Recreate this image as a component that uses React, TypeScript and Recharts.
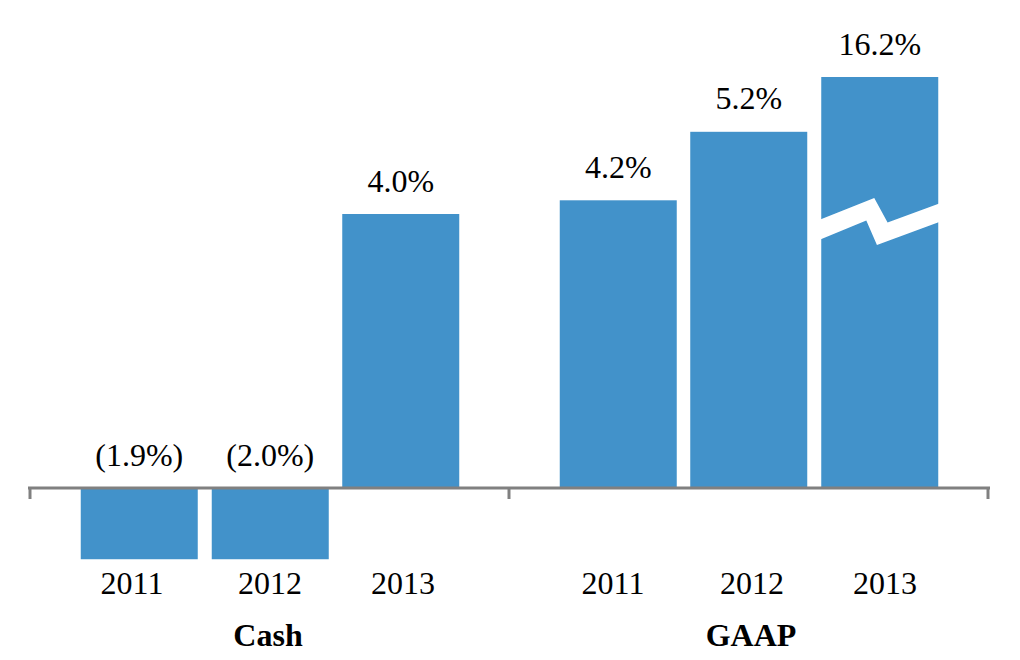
import React from "react";
import { BarChart, Bar, XAxis, YAxis, ReferenceLine, LabelList } from "recharts";

// values as reported, and bar heights as actually drawn in the reference
// (negative bars are compressed, the 16.2% bar is cut with a break mark)
const years = ["2011", "2012", "2013", "2011", "2012", "2013"];
const groups = ["Cash", "GAAP"];
const reported = [-1.9, -2.0, 4.0, 4.2, 5.2, 16.2];
const drawn = [-1.04, -1.04, 4.0, 4.2, 5.2, 6.0];
const broken = [false, false, false, false, false, true];

// x positions on a 0..958 axis
const barPos = [109, 240, 370.5, 588, 718.5, 849.5];
const yearPos = [102, 240, 373, 583, 722, 855];
const groupPos = [238, 721];
const groupEdges = [0, 479, 958];

const BLUE = "#4292CA";
const GREY = "#808080";
const FONT = "'Liberation Serif', 'Times New Roman', serif";

const fmt = (v: number) => (v < 0 ? `(${Math.abs(v).toFixed(1)}%)` : `${v.toFixed(1)}%`);

const data = barPos.map((x, i) => ({
  x,
  drawn: drawn[i],
  label: fmt(reported[i]),
  broken: broken[i],
}));

const BarShape = (props: any) => {
  const { x, y, width, height, payload } = props;
  const top = Math.min(y, y + height);
  const h = Math.abs(height);
  const w = width;
  return (
    <g>
      <rect x={x} y={top} width={w} height={h} fill={BLUE} />
      {payload?.broken && (
        <polygon
          fill="#fff"
          points={[
            [x - 1, top + 142.4],
            [x + w * 0.453, top + 121],
            [x + w * 0.567, top + 145.4],
            [x + w + 1, top + 126.4],
            [x + w + 1, top + 145.1],
            [x + w * 0.476, top + 168],
            [x + w * 0.385, top + 143.4],
            [x - 1, top + 162.4],
          ]
            .map((p) => p.join(","))
            .join(" ")}
        />
      )}
    </g>
  );
};

const ValueLabel = (props: any) => {
  const vb = props.viewBox || {};
  const x = props.x ?? vb.x;
  const y = props.y ?? vb.y;
  const width = props.width ?? vb.width;
  const height = props.height ?? vb.height;
  const top = Math.min(y, y + height);
  return (
    <text
      x={x + width / 2}
      y={top - 22.5}
      textAnchor="middle"
      fontFamily={FONT}
      fontSize={32}
      fill="#000"
    >
      {props.value}
    </text>
  );
};

export default function App() {
  return (
    <div style={{ position: "absolute", left: 0, top: 0, width: 1020, height: 660, background: "#fff" }}>
      <BarChart
        width={1020}
        height={660}
        data={data}
        margin={{ top: 35.9, right: 32, left: 30, bottom: 6.7 }}
      >
        <XAxis
          dataKey="x"
          type="number"
          domain={[0, 958]}
          allowDataOverflow
          ticks={yearPos}
          interval={0}
          tickFormatter={(_v: any, i: number) => years[i]}
          axisLine={false}
          tickLine={false}
          tickSize={0}
          tickMargin={1.4}
          height={53.1}
          tick={{ fontFamily: FONT, fontSize: 32, fill: "#000" }}
        />
        <XAxis
          xAxisId="group"
          dataKey="x"
          type="number"
          domain={[0, 958]}
          allowDataOverflow
          ticks={groupPos}
          interval={0}
          tickFormatter={(_v: any, i: number) => groups[i]}
          axisLine={false}
          tickLine={false}
          tickSize={0}
          tickMargin={0}
          height={30}
          tick={{ fontFamily: FONT, fontSize: 32, fontWeight: "bold", fill: "#000" }}
        />
        <YAxis hide domain={[-1.2, 6.6]} allowDataOverflow />
        <Bar dataKey="drawn" barSize={117} shape={BarShape} isAnimationActive={false}>
          <LabelList dataKey="label" content={ValueLabel} />
        </Bar>
        <ReferenceLine
          segment={[{ x: -2, y: 0 }, { x: 960, y: 0 }]}
          stroke={GREY}
          strokeWidth={3}
          ifOverflow="visible"
        />
        {groupEdges.map((gx) => (
          <ReferenceLine
            key={gx}
            segment={[{ x: gx, y: 0 }, { x: gx, y: -11 / 68.5 }]}
            stroke={GREY}
            strokeWidth={3}
            ifOverflow="visible"
          />
        ))}
      </BarChart>
    </div>
  );
}
